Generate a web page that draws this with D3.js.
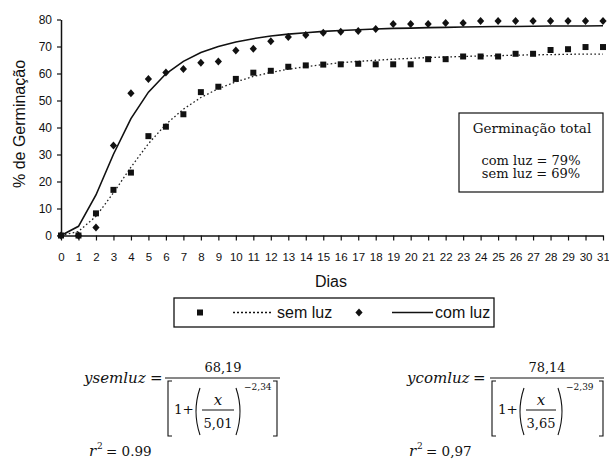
<!DOCTYPE html>
<html><head><meta charset="utf-8">
<script src="https://cdn.jsdelivr.net/npm/d3@7/dist/d3.min.js"></script>
<style>
html,body{margin:0;padding:0;background:#fff;}
svg{display:block;}
</style></head>
<body>
<script>
const days = d3.range(0, 32);
const yTicks = [0,10,20,30,40,50,60,70,80];
const semLuz = [0,0,8.2,16.9,23.3,36.8,40.3,44.9,53.1,55.1,58,60.3,61,62.5,63,63.3,63.4,63.6,63.4,63.4,63.4,65.3,65.3,66.3,66.3,66.3,67.3,67.3,68.7,69,69.8,69.8];
const comLuz = [0,0,3,33.3,52.7,58,60.4,61.7,64,64.4,68.5,69.2,71.9,73.5,74.3,75.1,75.5,75.7,76.5,78.3,78.3,78.3,78.7,78.7,79.4,79.4,79.4,79.4,79.4,79.4,79.4,79.4];
const semFit = [0,1.5,7.1,15.8,25.3,34.0,41.2,46.8,51.1,54.4,56.9,58.9,60.4,61.6,62.5,63.3,64.0,64.5,64.9,65.3,65.6,65.9,66.1,66.3,66.5,66.6,66.8,66.9,67.0,67.1,67.2,67.2];
const comFit = [0,3.4,15.0,30.1,43.3,53.1,59.9,64.5,67.8,70.0,71.7,72.9,73.9,74.6,75.1,75.6,75.9,76.2,76.5,76.7,76.8,77.0,77.1,77.2,77.3,77.4,77.4,77.5,77.6,77.6,77.6,77.7];
const seriesNames = ["sem luz", "com luz"];
const boxTitle = "Germinação total";
const boxLines = ["com luz = 79%", "sem luz = 69%"];

const W = 609, H = 462;
const svg = d3.select("body").append("svg").attr("width", W).attr("height", H);
const x = d3.scaleLinear().domain([0,31]).range([61,603]);
const y = d3.scaleLinear().domain([0,80]).range([235.5,19.5]);
const sans = "'Liberation Sans', Arial, sans-serif";
const serif = "'DejaVu Serif', serif";
const ink = "#111";

// axes
const gy = svg.append("g").attr("transform","translate(61,0)")
  .call(d3.axisLeft(y).tickValues(yTicks).tickSize(4).tickSizeOuter(0).tickPadding(5));
const gx = svg.append("g").attr("transform","translate(0,235.5)")
  .call(d3.axisBottom(x).tickValues(days).tickSize(5).tickSizeOuter(0).tickPadding(12));
[gy,gx].forEach(g=>{
  g.select(".domain").attr("stroke",ink).attr("stroke-width",1.5);
  g.selectAll(".tick line").attr("stroke",ink).attr("stroke-width",1.2);
  g.selectAll("text").attr("fill",ink).attr("font-family",sans);
});
gy.selectAll("text").attr("font-size",12);
gx.selectAll("text").attr("font-size",11.5);

// axis titles
svg.append("text").attr("transform","translate(25,124) rotate(-90)")
  .attr("text-anchor","middle").attr("font-family",sans).attr("font-size",16).attr("fill",ink)
  .text("% de Germinação");
svg.append("text").attr("x",331).attr("y",287).attr("text-anchor","middle")
  .attr("font-family",sans).attr("font-size",16).attr("fill",ink).text("Dias");

// fitted lines
const line = d => d3.line().x((v,i)=>x(days[i])).y(v=>y(v))(d);
svg.append("path").attr("d",line(semFit)).attr("fill","none").attr("stroke","#222")
  .attr("stroke-width",1.3).attr("stroke-dasharray","1.6,2.4");
svg.append("path").attr("d",line(comFit)).attr("fill","none").attr("stroke",ink)
  .attr("stroke-width",1.6);

// markers
const sq = d3.symbol().type(d3.symbolSquare).size(36);
const wideDiamond = {draw(ctx){ ctx.moveTo(0,-4); ctx.lineTo(3.6,0); ctx.lineTo(0,4); ctx.lineTo(-3.6,0); ctx.closePath(); }};
const dm = d3.symbol().type(wideDiamond);
svg.append("g").selectAll("path").data(comLuz).join("path")
  .attr("d",dm).attr("transform",(v,i)=>`translate(${x(days[i])},${y(v)})`).attr("fill",ink);
svg.append("g").selectAll("path").data(semLuz).join("path")
  .attr("d",sq).attr("transform",(v,i)=>`translate(${x(days[i])},${y(v)})`).attr("fill",ink);

// info box
svg.append("rect").attr("x",459).attr("y",113).attr("width",144).attr("height",79)
  .attr("fill","#fff").attr("stroke",ink).attr("stroke-width",1.2);
svg.append("text").attr("x",532).attr("y",133).attr("text-anchor","middle")
  .attr("font-family",serif).attr("font-size",13.5).attr("fill",ink).text(boxTitle);
boxLines.forEach((t,i)=>svg.append("text").attr("x",531).attr("y",165+i*12.5)
  .attr("text-anchor","middle").attr("font-family",serif).attr("font-size",13).attr("fill",ink).text(t));

// legend
svg.append("rect").attr("x",174).attr("y",298).attr("width",320).attr("height",29)
  .attr("fill","#fff").attr("stroke",ink).attr("stroke-width",1.3);
svg.append("path").attr("d",sq).attr("transform","translate(200,312.5)").attr("fill",ink);
svg.append("line").attr("x1",233).attr("x2",273).attr("y1",312.5).attr("y2",312.5)
  .attr("stroke",ink).attr("stroke-width",1.3).attr("stroke-dasharray","2,2");
svg.append("text").attr("x",277).attr("y",318).attr("font-family",sans).attr("font-size",16).attr("fill",ink).text(seriesNames[0]);
svg.append("path").attr("d",dm).attr("transform","translate(359,312.5)").attr("fill",ink);
svg.append("line").attr("x1",392).attr("x2",433).attr("y1",312.5).attr("y2",312.5)
  .attr("stroke",ink).attr("stroke-width",1.5);
svg.append("text").attr("x",435).attr("y",318).attr("font-family",sans).attr("font-size",16).attr("fill",ink).text(seriesNames[1]);

// equations
function eq(o){
  const g = svg.append("g");
  const T = (tx,ty,s,size,opts={})=>g.append("text").attr("x",tx).attr("y",ty).text(s)
    .attr("font-family",serif).attr("font-size",size).attr("fill",ink)
    .attr("font-style",opts.italic?"italic":null).attr("text-anchor",opts.anchor||"start");
  const P = (d,w)=>g.append("path").attr("d",d).attr("fill","none").attr("stroke",ink).attr("stroke-width",w||1.1);
  T(o.lx,383,o.name,15,{italic:true});
  T(o.eqx,383,"=",15);
  P(`M${o.f0},378H${o.f1}`,1);
  T(o.numx,372,o.num,13,{anchor:"middle"});
  P(`M${o.b0+4},381H${o.b0}V436H${o.b0+4}`);
  P(`M${o.b1-4},381H${o.b1}V436H${o.b1-4}`);
  T(o.b0+6,414,"1+",13.5);
  P(`M${o.p0+7},388Q${o.p0-1},411.5 ${o.p0+7},435`);
  P(`M${o.p1-7},388Q${o.p1+1},411.5 ${o.p1-7},435`);
  P(`M${o.p0+9},410H${o.p1-9}`,1);
  T((o.p0+o.p1)/2,405,"x",15,{italic:true,anchor:"middle"});
  T((o.p0+o.p1)/2,428,o.den,13,{anchor:"middle"});
  T(o.p1+1,390,o.exp,9);
  T(o.rx,456,"r",15,{italic:true});
  T(o.rx+8,449,"2",9);
  T(o.rx+17,456,o.r2,13.5);
}
eq({name:"ysemluz",lx:84,eqx:150,f0:165,f1:280,num:"68,19",numx:223,b0:168,b1:277,p0:193,p1:243,den:"5,01",exp:"−2,34",rx:89,r2:"= 0.99"});
eq({name:"ycomluz",lx:407,eqx:473,f0:490,f1:604,num:"78,14",numx:547,b0:492,b1:603,p0:517,p1:565,den:"3,65",exp:"−2,39",rx:409,r2:"= 0,97"});
</script>
</body></html>
